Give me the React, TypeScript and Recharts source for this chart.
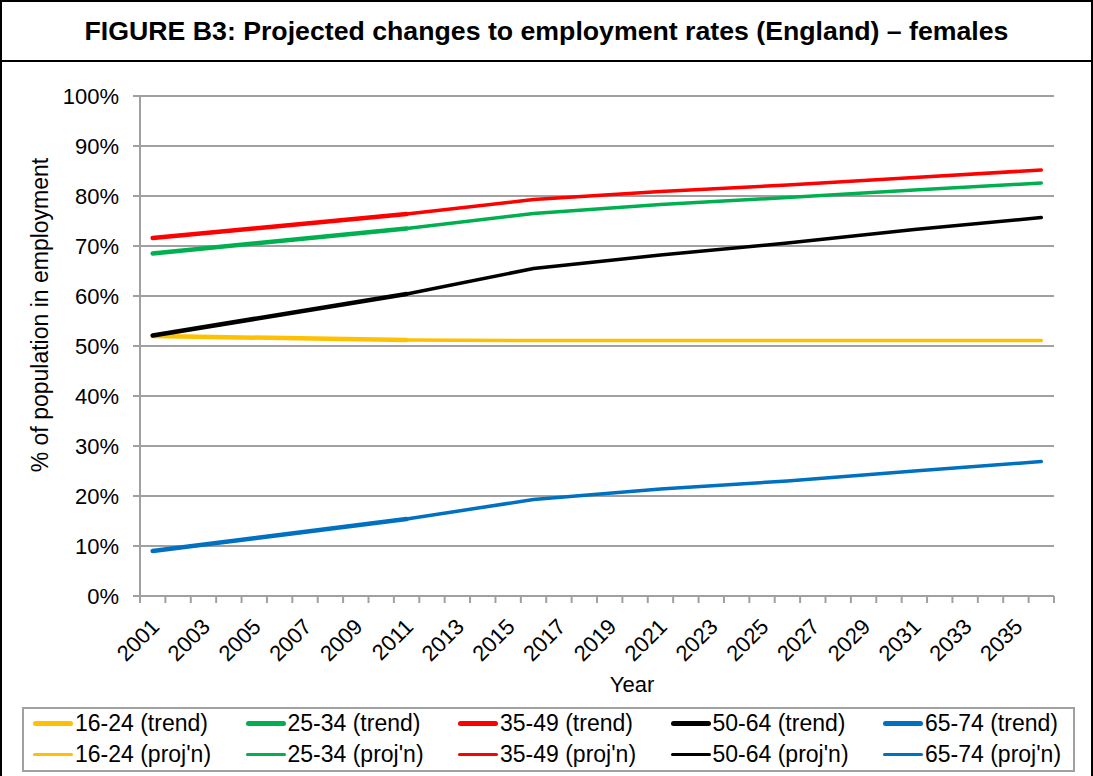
import React from "react";
import { LineChart, Line, XAxis, YAxis, CartesianGrid } from "recharts";

const years = [
  2001, 2002, 2003, 2004, 2005, 2006, 2007, 2008, 2009, 2010, 2011, 2012,
  2013, 2014, 2015, 2016, 2017, 2018, 2019, 2020, 2021, 2022, 2023, 2024,
  2025, 2026, 2027, 2028, 2029, 2030, 2031, 2032, 2033, 2034, 2035, 2036,
];
const yTicks = [0, 10, 20, 30, 40, 50, 60, 70, 80, 90, 100];

const trendYears = [2001, 2011];
const projYears = [2011, 2016, 2021, 2026, 2031, 2036];

const ageGroups = ["16-24", "25-34", "35-49", "50-64", "65-74"];
const colors = ["#FFC000", "#00B050", "#FF0000", "#000000", "#0070C0"];

// % of population in employment
const trend1624 = [52.0, 51.2];
const trend2534 = [68.5, 73.5];
const trend3549 = [71.6, 76.4];
const trend5064 = [52.1, 60.4];
const trend6574 = [9.0, 15.4];

const proj1624 = [51.2, 51.1, 51.1, 51.1, 51.1, 51.1];
const proj2534 = [73.5, 76.5, 78.3, 79.7, 81.2, 82.6];
const proj3549 = [76.4, 79.3, 80.9, 82.2, 83.7, 85.2];
const proj5064 = [60.4, 65.5, 68.2, 70.6, 73.3, 75.7];
const proj6574 = [15.4, 19.3, 21.4, 23.0, 25.0, 26.9];

const trendSeries = [trend1624, trend2534, trend3549, trend5064, trend6574];
const projSeries = [proj1624, proj2534, proj3549, proj5064, proj6574];

const keyYears = Array.from(new Set([...trendYears, ...projYears]));
const data = keyYears.map((year) => {
  const row: Record<string, number | null> = { year };
  ageGroups.forEach((_, i) => {
    const ti = trendYears.indexOf(year);
    const pi = projYears.indexOf(year);
    row[`t${i}`] = ti >= 0 ? trendSeries[i][ti] : null;
    row[`p${i}`] = pi >= 0 ? projSeries[i][pi] : null;
  });
  return row;
});

// tick marks sit between years (category boundaries), labels every 2nd year
const yearBounds = [...years.map((y) => y - 0.5), years[years.length - 1] + 0.5];
const xDomain = [yearBounds[0], yearBounds[yearBounds.length - 1]];

const W = 1093;
const H = 706;
const MARGIN = { top: 96, right: 39, bottom: 0, left: 0 };
const Y_AXIS_W = 140;
const BAND = (W - MARGIN.left - MARGIN.right - Y_AXIS_W) / years.length;

const FONT = '"Liberation Sans", Arial, sans-serif';
const GRID = "#a0a0a0";

const XTick = (props: any) => {
  const { x, y, payload } = props;
  const year = payload.value + 0.5;
  const idx = years.indexOf(year);
  if (idx < 0 || idx % 2 !== 0) return <g />;
  const ax = x + BAND / 2 + 8;
  const ay = y + 25;
  return (
    <text
      x={ax}
      y={ay}
      transform={`rotate(-45 ${ax} ${ay})`}
      textAnchor="end"
      fontSize={22}
      fontFamily={FONT}
      fill="#000"
    >
      {year}
    </text>
  );
};

const YearLabel = (props: any) => {
  const { viewBox } = props;
  const cx = viewBox.x + viewBox.width / 2 + 35;
  return (
    <text x={cx} y={692} textAnchor="middle" fontSize={22} fontFamily={FONT} fill="#000">
      Year
    </text>
  );
};

const YLabel = (props: any) => {
  const { viewBox } = props;
  const cx = viewBox.x + 48;
  const cy = viewBox.y + viewBox.height / 2 - 31;
  return (
    <text
      x={cx}
      y={cy}
      transform={`rotate(-90 ${cx} ${cy})`}
      textAnchor="middle"
      fontSize={23}
      fontFamily={FONT}
      fill="#000"
    >
      % of population in employment
    </text>
  );
};

const App = () => {
  return (
    <div
      style={{
        position: "absolute",
        left: 0,
        top: 0,
        width: 1093,
        height: 776,
        background: "#fff",
        fontFamily: FONT,
        overflow: "hidden",
      }}
    >
      <div
        style={{
          position: "absolute",
          left: 0,
          top: 0,
          width: 1089,
          height: 774,
          borderLeft: "2px solid #000",
          borderRight: "2px solid #000",
          borderTop: "2px solid #000",
        }}
      />
      <div
        style={{
          position: "absolute",
          left: 0,
          top: 0,
          width: 1093,
          height: 62,
          borderBottom: "2px solid #000",
          display: "flex",
          alignItems: "center",
          justifyContent: "center",
          fontWeight: "bold",
          fontSize: 26.7,
          boxSizing: "border-box",
          paddingTop: 2,
        }}
      >
        FIGURE B3: Projected changes to employment rates (England) – females
      </div>

      <div style={{ position: "absolute", left: 0, top: 0 }}>
        <LineChart width={W} height={H} data={data} margin={MARGIN}>
          <XAxis
            dataKey="year"
            type="number"
            domain={xDomain}
            ticks={yearBounds}
            allowDataOverflow
            interval={0}
            tick={<XTick />}
            tickLine={{ stroke: GRID, strokeWidth: 2 }}
            tickSize={7}
            tickMargin={0}
            axisLine={{ stroke: GRID, strokeWidth: 2 }}
            height={110}
            label={<YearLabel />}
          />
          <YAxis
            width={Y_AXIS_W}
            domain={[0, 100]}
            ticks={yTicks}
            interval={0}
            tickFormatter={(v: number) => `${v}%`}
            tick={{ fontSize: 22, fontFamily: FONT, fill: "#000" }}
            tickSize={7}
            tickMargin={14}
            tickLine={{ stroke: GRID, strokeWidth: 2 }}
            axisLine={{ stroke: GRID, strokeWidth: 2 }}
            label={<YLabel />}
          />
          <CartesianGrid
            vertical={false}
            stroke={GRID}
            strokeWidth={2}
            horizontalValues={yTicks}
          />
          {ageGroups.map((g, i) => (
            <Line
              key={`p${i}`}
              type="linear"
              dataKey={`p${i}`}
              name={`${g} (proj'n)`}
              stroke={colors[i]}
              strokeWidth={3.5}
              strokeLinecap="round"
              dot={false}
              activeDot={false}
              isAnimationActive={false}
            />
          ))}
          {ageGroups.map((g, i) => (
            <Line
              key={`t${i}`}
              type="linear"
              dataKey={`t${i}`}
              name={`${g} (trend)`}
              stroke={colors[i]}
              strokeWidth={4.5}
              strokeLinecap="round"
              dot={false}
              activeDot={false}
              isAnimationActive={false}
            />
          ))}
        </LineChart>
      </div>

      <div
        style={{
          position: "absolute",
          left: 22,
          top: 707,
          width: 1053,
          height: 65,
          border: `2px solid ${GRID}`,
          boxSizing: "border-box",
          fontSize: 23,
        }}
      >
        {["trend", "proj'n"].map((kind, r) => (
          <div
            key={kind}
            style={{ position: "absolute", left: 9, top: r === 0 ? 0 : 31, display: "flex" }}
          >
            {ageGroups.map((g, i) => (
              <div
                key={g}
                style={{ width: 212.5, display: "flex", alignItems: "center", height: 28 }}
              >
                <span
                  style={{
                    display: "inline-block",
                    width: 40,
                    height: r === 0 ? 5 : 3,
                    borderRadius: 3,
                    background: colors[i],
                    marginRight: 2,
                  }}
                />
                <span style={{ whiteSpace: "nowrap" }}>{`${g} (${kind})`}</span>
              </div>
            ))}
          </div>
        ))}
      </div>
    </div>
  );
};

export default App;
